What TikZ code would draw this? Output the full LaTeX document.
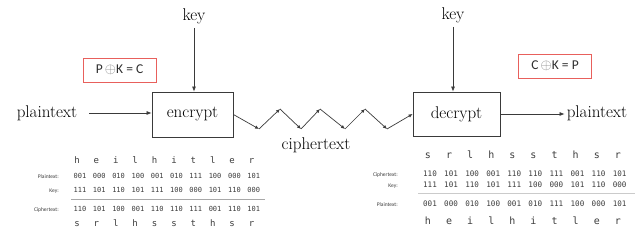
\documentclass[tikz,border=0pt]{standalone}
\usepackage{fontspec}
\usepackage{xcolor}
\usepackage{tikz}
\usetikzlibrary{arrows.meta,positioning,calc}
\newfontfamily\eqfont{Carlito}
\newfontfamily\tabfont{DejaVu Sans Mono}
\definecolor{BoxLine}{HTML}{3A3A3A}
\definecolor{EqRed}{HTML}{E8605C}
\definecolor{EqInk}{HTML}{2E2E2E}
\definecolor{RuleGray}{HTML}{A8A8A8}
\definecolor{TabInk}{HTML}{3C3C3C}
\newcommand{\xorsign}{\textcolor{gray}{\fontsize{15}{15}\selectfont$\oplus$}}

\begin{document}
\begin{tikzpicture}[
    x=1pt,y=-1pt,
    box/.style={draw=BoxLine,line width=0.8pt,minimum width=81pt,minimum height=45pt,
      font=\fontsize{17}{20}\selectfont},
    lbl/.style={inner sep=0pt,font=\fontsize{17}{20}\selectfont},
    eqbox/.style={draw=EqRed,line width=0.8pt,minimum width=73pt,minimum height=24pt,
      text=EqInk,font=\eqfont\fontsize{13.5}{15}\selectfont},
    arrow/.style={-{Latex[length=5pt,width=4pt]},line width=0.7pt,color=BoxLine},
    rowlbl/.style={anchor=base east,inner sep=0pt,font=\eqfont\fontsize{5.5}{6}\selectfont,text=TabInk},
    bits/.style={anchor=base,inner sep=0pt,font=\tabfont\fontsize{7}{8}\selectfont,text=TabInk},
    chars/.style={anchor=base,inner sep=0pt,font=\tabfont\fontsize{9}{10}\selectfont,text=TabInk}
  ]
    \useasboundingbox (0,0) rectangle (640,245);

    % main flow
    \node[lbl] (pin) at (47,113) {plaintext};
    \node[box] (enc) at (192.5,114.5) {encrypt};
    \node[box,minimum width=87pt,minimum height=44pt] (dec) at (456.5,114) {decrypt};
    \node[lbl] (pout) at (597,113) {plaintext};
    \node[lbl] (keyE) at (194,16) {key};
    \node[lbl] (keyD) at (453,15) {key};
    \node[lbl] (cipher) at (316,145) {ciphertext};
    \node[eqbox] (eqE) at (119.5,70) {P\,\xorsign K = C};
    \node[eqbox] (eqD) at (555,66) {C\,\xorsign K = P};

    \draw[arrow,shorten <=12pt] (pin.east) -- (pin.east -| enc.west);
    \draw[arrow,shorten <=4pt] (keyE.south) -- (keyE.south |- enc.north);
    \draw[arrow,shorten <=4pt] (keyD.south) -- (keyD.south |- dec.north);
    \draw[arrow,shorten >=2pt] (dec.east) -- (dec.east -| pout.west);

    % zigzag channel
    \coordinate (z1) at (259,129);
    \coordinate (z2) at (280,109);
    \coordinate (z3) at (301,129);
    \coordinate (z4) at (320,109);
    \coordinate (z5) at (345,129);
    \coordinate (z6) at (365,109);
    \coordinate (z7) at (387,129);
    \foreach \a/\b in {enc.east/z1,z1/z2,z2/z3,z3/z4,z4/z5,z5/z6,z6/z7,z7/dec.west}
      \draw[arrow,-{Latex[length=4pt,width=3.5pt]}] (\a) -- (\b);

    % left table
    \node[rowlbl] (lplab) at (59,178.5) {Plaintext:};
    \node[rowlbl] (lkeylab) at (59,193) {Key:};
    \node[rowlbl] (lciplab) at (59,211.5) {Ciphertext:};
    \foreach \c [count=\i from 0] in {h,e,i,l,h,i,t,l,e,r}
      \node[chars] (ltop\i) at (77+19.4*\i,164) {\c};
    \foreach \v [count=\i from 0] in {001,000,010,100,001,010,111,100,000,101}
      \node[bits] (lpb\i) at (80+19.3*\i,178.5) {\v};
    \foreach \v [count=\i from 0] in {111,101,110,101,111,100,000,101,110,000}
      \node[bits] (lkb\i) at (80+19.3*\i,193) {\v};
    \draw[RuleGray,line width=0.8pt] (71,199) -- (265,199);
    \foreach \v [count=\i from 0] in {110,101,100,001,110,110,111,001,110,101}
      \node[bits] (lcb\i) at (80+19.3*\i,211.5) {\v};
    \foreach \c [count=\i from 0] in {s,r,l,h,s,s,t,h,s,r}
      \node[chars] (lbot\i) at (77+19.4*\i,227) {\c};

    % right table
    \node[rowlbl] (rciplab) at (398,177) {Ciphertext:};
    \node[rowlbl] (rkeylab) at (398,188) {Key:};
    \node[rowlbl] (rpllab) at (398,206.5) {Plaintext:};
    \foreach \c [count=\i from 0] in {s,r,l,h,s,s,t,h,s,r}
      \node[chars,font=\tabfont\fontsize{10}{11}\selectfont] (rtop\i) at (428+21.1*\i,158.5) {\c};
    \foreach \v [count=\i from 0] in {110,101,100,001,110,110,111,001,110,101}
      \node[bits,font=\tabfont\fontsize{7.6}{8}\selectfont] (rcb\i) at (430+21.07*\i,177) {\v};
    \foreach \v [count=\i from 0] in {111,101,110,101,111,100,000,101,110,000}
      \node[bits,font=\tabfont\fontsize{7.6}{8}\selectfont] (rkb\i) at (430+21.07*\i,188) {\v};
    \draw[RuleGray!60,line width=1.5pt] (418,193.5) -- (635,193.5);
    \foreach \v [count=\i from 0] in {001,000,010,100,001,010,111,100,000,101}
      \node[bits,font=\tabfont\fontsize{7.6}{8}\selectfont] (rpb\i) at (430+21.07*\i,206.5) {\v};
    \foreach \c [count=\i from 0] in {h,e,i,l,h,i,t,l,e,r}
      \node[chars,font=\tabfont\fontsize{10}{11}\selectfont] (rbot\i) at (428+21.1*\i,225) {\c};
\end{tikzpicture}
\end{document}
